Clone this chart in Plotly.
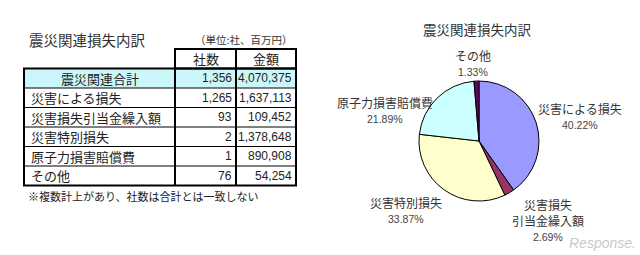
import plotly.graph_objects as go

# ---- data ----
title_text = "震災関連損失内訳"
unit_text = "（単位:社、百万円）"
col_headers = ["社数", "金額"]
row_labels = ["震災関連合計", "災害による損失", "災害損失引当金繰入額", "災害特別損失", "原子力損害賠償費", "その他"]
companies = [1356, 1265, 93, 2, 1, 76]
amounts = [4070375, 1637113, 109452, 1378648, 890908, 54254]
footnote = "※複数計上があり、社数は合計とは一致しない"

pie_labels = ["災害による損失", "災害損失<br>引当金繰入額", "災害特別損失", "原子力損害賠償費", "その他"]
pie_values = [40.22, 2.69, 33.87, 21.89, 1.33]
pie_colors = ["#9999FF", "#993366", "#FFFFCC", "#CCFFFF", "#660066"]

W, H = 640, 255
FONT = "Noto Sans CJK JP"
NUMFONT = "Liberation Sans"
TXT = "#222222"

fig = go.Figure()

# ---- table layout (pixel coords) ----
X0, XC1, XC2, X1 = 24, 175, 236, 296
Y_HEAD = 49
HEAD_H = 19.5
ROW_H = 19.5
y_rows = [Y_HEAD + HEAD_H + i * ROW_H for i in range(len(row_labels) + 1)]
shapes = []
shapes.append(dict(type="rect", xref="x", yref="y", x0=X0, x1=X1, y0=y_rows[0], y1=y_rows[1],
                   fillcolor="#CCF7FA", line=dict(width=0), layer="below"))
shapes.append(dict(type="rect", xref="x", yref="y", x0=XC1, x1=X1, y0=Y_HEAD, y1=y_rows[0],
                   line=dict(color="black", width=2)))
shapes.append(dict(type="line", xref="x", yref="y", x0=XC2, x1=XC2, y0=Y_HEAD, y1=y_rows[0],
                   line=dict(color="black", width=2)))
shapes.append(dict(type="rect", xref="x", yref="y", x0=X0, x1=X1, y0=y_rows[0], y1=y_rows[-1],
                   line=dict(color="black", width=2)))
for xv in (XC1, XC2):
    shapes.append(dict(type="line", xref="x", yref="y", x0=xv, x1=xv, y0=y_rows[0], y1=y_rows[-1],
                       line=dict(color="black", width=2)))
for yv in y_rows[1:-1]:
    shapes.append(dict(type="line", xref="x", yref="y", x0=X0, x1=X1, y0=yv, y1=yv,
                       line=dict(color="black", width=1)))

ann = []
ann.append(dict(x=27, y=39, text=title_text, xanchor="left", yanchor="middle", showarrow=False,
                font=dict(family=FONT, size=14.5, color="#333")))
ann.append(dict(x=294, y=39, text=unit_text, xanchor="right", yanchor="middle", showarrow=False,
                font=dict(family=FONT, size=10.5, color="#333")))
for i, h in enumerate(col_headers):
    xc = (XC1 + XC2) / 2 if i == 0 else (XC2 + X1) / 2
    ann.append(dict(x=xc, y=(Y_HEAD + y_rows[0]) / 2, text=h, xanchor="center", yanchor="middle",
                    showarrow=False, font=dict(family=FONT, size=13, color=TXT)))
for i, lab in enumerate(row_labels):
    yc = (y_rows[i] + y_rows[i + 1]) / 2
    if i == 0:
        ann.append(dict(x=(X0 + XC1) / 2, y=yc, text=lab, xanchor="center", yanchor="middle",
                        showarrow=False, font=dict(family=FONT, size=13, color=TXT)))
    else:
        ann.append(dict(x=X0 + 5, y=yc, text=lab, xanchor="left", yanchor="middle",
                        showarrow=False, font=dict(family=FONT, size=13, color=TXT)))
    ann.append(dict(x=XC2 - 2, y=yc, text=f"{companies[i]:,}", xanchor="right", yanchor="middle",
                    showarrow=False, font=dict(family=NUMFONT, size=12, color=TXT)))
    ann.append(dict(x=X1 - 2, y=yc, text=f"{amounts[i]:,}", xanchor="right", yanchor="middle",
                    showarrow=False, font=dict(family=NUMFONT, size=12, color=TXT)))
ann.append(dict(x=26, y=196, text=footnote, xanchor="left", yanchor="middle", showarrow=False,
                font=dict(family=FONT, size=11, color=TXT)))

# ---- pie ----
CX, CY, R = 479, 141, 60
fig.add_trace(go.Pie(values=pie_values, labels=pie_labels, sort=False, direction="clockwise",
                     rotation=0, marker=dict(colors=pie_colors, line=dict(color="black", width=1)),
                     textinfo="none", hoverinfo="label+percent", showlegend=False,
                     domain=dict(x=[(CX - R) / W, (CX + R) / W], y=[(H - CY - R) / H, (H - CY + R) / H])))
ann.append(dict(x=477, y=29, text=title_text, xanchor="center", yanchor="middle", showarrow=False,
                font=dict(family=FONT, size=13.5, color="#333")))

label_pos = [(580, 108), (548, 212), (406, 202), (385, 102), (473, 55)]
for lab, val, (lx, ly) in zip(pie_labels, pie_values, label_pos):
    ann.append(dict(x=lx, y=ly, text=lab, xanchor="center", yanchor="middle", showarrow=False,
                    font=dict(family=FONT, size=12, color="#333")))
    nlines = lab.count("<br>") + 1
    ann.append(dict(x=lx, y=ly + 8.25 * (nlines - 1) + 16.5, text=f"{val:.2f}%", xanchor="center",
                    yanchor="middle", showarrow=False, font=dict(family=NUMFONT, size=10.5, color="#444")))

# watermark (kept clear of the pie labels)
ann.append(dict(x=638, y=243, text="<i>Response.</i>", xanchor="right", yanchor="middle", showarrow=False,
                font=dict(family="Liberation Sans", size=14, color="rgba(150,150,150,0.55)")))

fig.update_layout(
    width=W, height=H, margin=dict(l=0, r=0, t=0, b=0),
    paper_bgcolor="white", plot_bgcolor="white",
    xaxis=dict(range=[0, W], visible=False, fixedrange=True),
    yaxis=dict(range=[H, 0], visible=False, fixedrange=True),
    shapes=shapes, annotations=ann,
)
fig.write_html("out.html")
